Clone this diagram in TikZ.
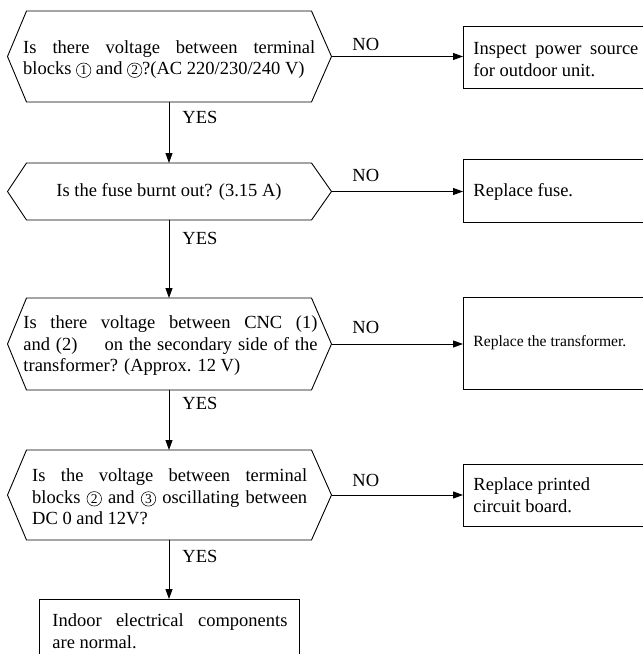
\documentclass[tikz,border=0pt]{standalone}
\usepackage{fontspec}
\setmainfont{Liberation Serif}
\usetikzlibrary{arrows.meta}
\newcommand\cd[1]{\tikz[baseline=(d.base)]\node[circle, draw, line width=0.55pt, minimum size=14.5pt, inner sep=0pt, font=\fontsize{13.5}{13.5}\selectfont] (d) {#1};}
\newcommand\jl[2]{\makebox[#1][s]{#2}}
\begin{document}
\begin{tikzpicture}[x=1pt,y=-1pt,
 line width=0.9pt,
 arr/.style={-{Triangle[length=10pt,width=7pt]}},
 hexbox/.style={minimum width=285pt, inner sep=0pt, outer sep=0pt},
 rbox/.style={draw, minimum width=260pt, inner sep=0pt, outer sep=0pt},
 txt/.style={inner sep=0pt, anchor=west, align=left, font=\fontsize{18.5}{21.5}\selectfont},
 lab/.style={inner sep=0pt, anchor=west, font=\fontsize{18.5}{21.5}\selectfont}]
\useasboundingbox (0,0) rectangle (643,654);
\clip (0,0) rectangle (643,654);

% hexagons
\node[hexbox, minimum height=91pt] (h1) at (169,56.5) {};
\node[hexbox, minimum height=57pt] (h2) at (169,191.5) {};
\node[hexbox, minimum height=92pt] (h3) at (169,344) {};
\node[hexbox, minimum height=90pt] (h4) at (169,495) {};
\foreach \h in {h1,h2,h3,h4}{
  \draw (\h.north west) -- (\h.north east) -- ([xshift=20pt]\h.east) -- (\h.south east) -- (\h.south west) -- ([xshift=-19pt]\h.west) -- cycle;
  \coordinate (\h r) at ([xshift=20pt]\h.east);
}

% boxes
\node[rbox, minimum height=62pt] (b1) at (593,57) {};
\node[rbox, minimum height=63pt] (b2) at (593,190.5) {};
\node[rbox, minimum height=92pt] (b3) at (593,343) {};
\node[rbox, minimum height=62pt] (b4) at (593,495) {};
\node[rbox, minimum height=90pt] (f) at (169,644) {};

% connectors
\draw[arr] (h1r) -- (h1r -| b1.west);
\draw[arr] (h2r) -- (h2r -| b2.west);
\draw[arr] (h3r) -- (h3r -| b3.west);
\draw[arr] (h4r) -- (h4r -| b4.west);
\draw[arr] (h1.south) -- (h2.north);
\draw[arr] (h2.south) -- (h3.north);
\draw[arr] (h3.south) -- (h4.north);
\draw[arr] (h4.south) -- (f.north);

% texts
\node[txt] (t1) at (23,59.5) {\jl{292pt}{Is there voltage between terminal}\\ blocks \cd{1} and \cd{2}?(AC 220/230/240 V)};
\node[txt, anchor=center] (t2) at (h2) {Is the fuse burnt out? (3.15 A)};
\node[txt] (t3) at (23,346) {\jl{294pt}{Is there voltage between CNC (1)}\\ \jl{294pt}{and (2)\hspace{27pt}on the secondary side of the}\\ transformer? (Approx. 12 V)};
\node[txt] (t4) at (32,497) {\jl{275pt}{Is the voltage between terminal}\\ \jl{275pt}{blocks \cd{2} and \cd{3} oscillating between}\\ DC 0 and 12V?};
\node[txt] (t5) at (52,631) {\jl{235pt}{Indoor electrical components}\\ are normal.};
\node[txt] (r1) at (473,59.5) {\jl{165pt}{Inspect power source}\\ for outdoor unit.};
\node[txt] (r2) at (473,192) {Replace fuse.};
\node[txt, font=\fontsize{15.6}{18}\selectfont] (r3) at (473,343) {Replace the transformer.};
\node[txt] (r4) at (473,495) {Replace printed\\ circuit board.};

% labels
\node[lab] (y1) at (182,117) {YES};
\node[lab] (y2) at (182,238) {YES};
\node[lab] (y3) at (182,403) {YES};
\node[lab] (y4) at (182,556) {YES};
\node[lab] (n1) at (352,44) {NO};
\node[lab] (n2) at (352,175) {NO};
\node[lab] (n3) at (352,327) {NO};
\node[lab] (n4) at (352,480) {NO};
\end{tikzpicture}
\end{document}
